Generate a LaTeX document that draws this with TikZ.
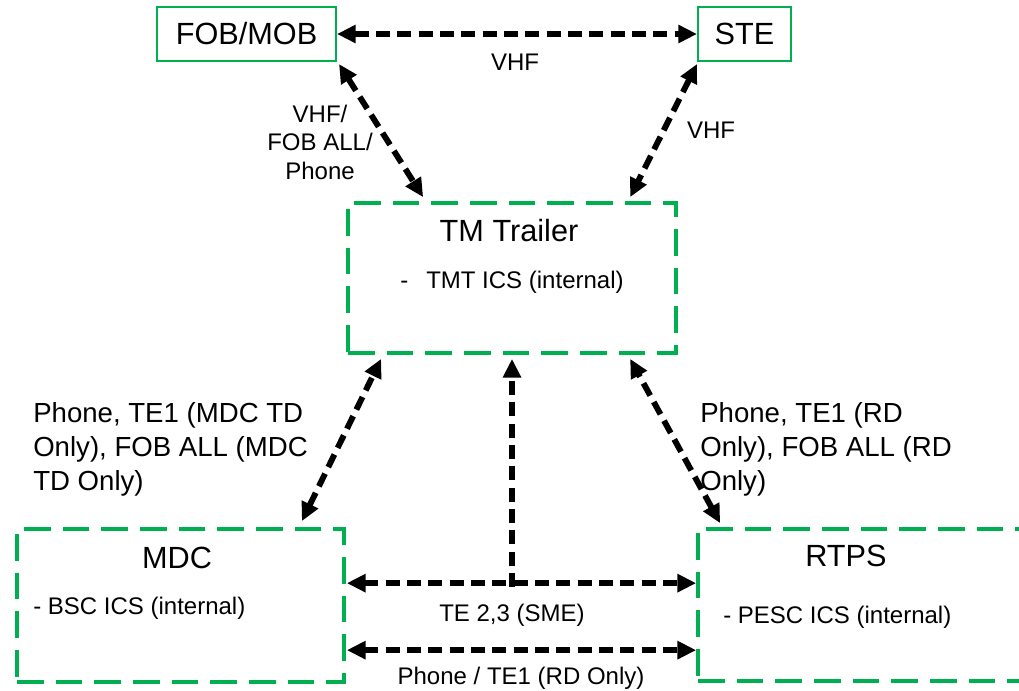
\documentclass[tikz,border=0pt]{standalone}
\usepackage{fontspec}
\setmainfont{Liberation Sans}
\usetikzlibrary{arrows.meta,calc}
\definecolor{boxgreen}{RGB}{0,176,80}
\begin{document}
\begin{tikzpicture}[x=0.75pt,y=-0.75pt,
  sbox/.style={draw=boxgreen,line width=1.5pt,inner sep=0pt,font=\fontsize{23}{27}\selectfont},
  dbox/.style={draw=boxgreen,line width=2.8pt,dash pattern=on 20pt off 9pt,inner sep=0pt},
  title/.style={font=\fontsize{23}{27}\selectfont,inner sep=0pt},
  item/.style={font=\fontsize{18}{21.4}\selectfont,inner sep=0pt},
  lbl/.style={font=\fontsize{18}{21.4}\selectfont,inner sep=0pt},
  big/.style={font=\fontsize{20.7}{25.5}\selectfont,inner sep=0pt},
  conn/.style={line width=4.4pt,dash pattern=on 10.5pt off 5.5pt,{Triangle[length=14pt,width=13pt]}-{Triangle[length=14pt,width=13pt]}},
  connone/.style={line width=4.4pt,dash pattern=on 10.5pt off 5.5pt,-{Triangle[length=14pt,width=13pt]}}
]
\useasboundingbox (0,0) rectangle (1019,690);
\clip (0,0) rectangle (1019,690);

% boxes
\node[sbox,minimum width=134.25pt,minimum height=40.5pt] (fob) at (246.5,34) {FOB/MOB};
\node[sbox,minimum width=69.75pt,minimum height=40.5pt] (ste) at (744.5,34) {STE};
\node[dbox,minimum width=246pt,minimum height=112.5pt] (tm) at (512,278) {};
\node[dbox,minimum width=245.25pt,minimum height=114.75pt] (mdc) at (180.5,605.5) {};
\node[dbox,minimum width=246pt,minimum height=114pt] (rtps) at (862,605) {};

% box texts
\node[title] (tmtitle) at (509,231) {TM Trailer};
\node[item,anchor=west] (tmitem) at (400,282) {-\hspace{13.5pt}TMT ICS (internal)};
\node[title] (mdctitle) at (177,558) {MDC};
\node[item,anchor=west] (mdcitem) at (33,608) {- BSC ICS (internal)};
\node[title] (rtpstitle) at (846,556) {RTPS};
\node[item,anchor=west] (rtpsitem) at (723,617) {- PESC ICS (internal)};

% labels
\node[lbl] (vhfa) at (515,62) {VHF};
\node[lbl,align=center] (vhfb) at (320,142) {VHF/\\FOB ALL/\\Phone};
\node[lbl] (vhfc) at (711,130) {VHF};
\node[big,anchor=west,align=left] (leftlbl) at (33,449) {Phone, TE1 (MDC TD\\Only), FOB ALL (MDC\\TD Only)};
\node[big,anchor=west,align=left] (rightlbl) at (700,449) {Phone, TE1 (RD\\Only), FOB ALL (RD\\Only)};
\node[lbl] (telbl) at (512,615) {TE 2,3 (SME)};
\node[lbl] (phonelbl) at (521,678) {Phone / TE1 (RD Only)};

% connectors
\coordinate (junc) at ($(tm.south)+(0,232)$);
\draw[conn] (fob.east) -- (ste.west);
\draw[conn] ($(fob.south east)+(2,2)$) -- ($(tm.north west)+(77,-4)$);
\draw[conn] ($(ste.south west)+(0,2)$) -- ($(tm.north west)+(284,-4)$);
\draw[conn] ($(mdc.north east)+(-44,-6)$) -- ($(tm.south west)+(35,4)$);
\draw[conn] ($(rtps.north west)+(24,-4)$) -- ($(tm.south west)+(284,4)$);
\draw[conn] ($(mdc.north east)+(1,56)$) -- ($(rtps.north west)+(0,56)$);
\draw[connone] (junc) -- ($(tm.south)+(0,4)$);
\draw[conn] ($(mdc.north east)+(1,123)$) -- ($(rtps.north west)+(0,123)$);
\end{tikzpicture}
\end{document}
